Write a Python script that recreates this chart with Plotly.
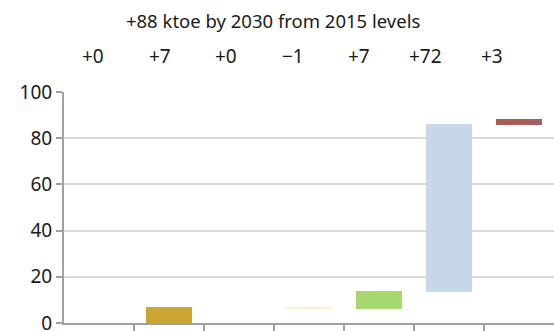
import plotly.graph_objects as go

categories = ["c1", "c2", "c3", "c4", "c5", "c6", "c7"]
change_labels = ["+0", "+7", "+0", "\u22121", "+7", "+72", "+3"]
bar_starts = [0, 0, 7, 6.9, 6.1, 13.6, 85.9]
bar_ends = [0, 6.9, 7, 6.1, 13.8, 86.1, 88.2]
bar_colors = ["#C9A532", "#C9A532", "#C9A532", "#FDF0CF", "#A6D770", "#C5D7E8", "#AA5E59"]
title_text = "+88 ktoe by 2030 from 2015 levels"
y_ticks = [0, 20, 40, 60, 80, 100]

xs = list(range(len(categories)))
deltas = [e - s for s, e in zip(bar_starts, bar_ends)]

fig = go.Figure()
fig.add_trace(go.Bar(
    x=xs, y=deltas, base=bar_starts,
    marker=dict(color=bar_colors, line=dict(width=0)),
    width=0.67, showlegend=False, hoverinfo="skip",
))

font_family = "Noto Sans, DejaVu Sans, sans-serif"
# labels row sits slightly left of category centres in the original layout
for i, lab in enumerate(change_labels):
    fig.add_annotation(x=-0.08 + i * 0.949, y=1.0, xref="x", yref="paper",
                       yanchor="middle", yshift=36,
                       text=lab, showarrow=False,
                       font=dict(size=19, color="#1a1a1a", family=font_family))

fig.update_layout(
    width=554, height=331,
    margin=dict(l=64, r=0, t=92, b=8, autoexpand=False),
    paper_bgcolor="white", plot_bgcolor="white",
    title=dict(text=title_text, x=0.493, xanchor="center", y=0.935, yanchor="middle",
               font=dict(size=18.5, color="#1a1a1a", family=font_family)),
    font=dict(family=font_family, size=19, color="#1a1a1a"),
    bargap=0,
)
fig.update_xaxes(
    range=[-0.5, 6.5], showgrid=False, zeroline=False,
    showline=True, linecolor="#A0A0A0", linewidth=2,
    tickmode="array", tickvals=[0.5, 1.5, 2.5, 3.5, 4.5, 5.5],
    ticks="outside", ticklen=6, tickwidth=2, tickcolor="#A0A0A0",
    showticklabels=False, fixedrange=True, automargin=False,
)
fig.update_yaxes(
    range=[0, 100], tickvals=y_ticks,
    showgrid=True, gridcolor="#D9D9D9", gridwidth=2,
    zeroline=False, showline=True, linecolor="#A0A0A0", linewidth=2,
    ticks="outside", ticklen=6, tickwidth=2, tickcolor="#A0A0A0",
    tickfont=dict(size=19, color="#1a1a1a", family=font_family),
    ticklabeloverflow="allow", automargin=False,
    fixedrange=True,
)

fig.write_html("out.html", config={"displayModeBar": False},
               post_script="document.body.style.margin='0px';")
